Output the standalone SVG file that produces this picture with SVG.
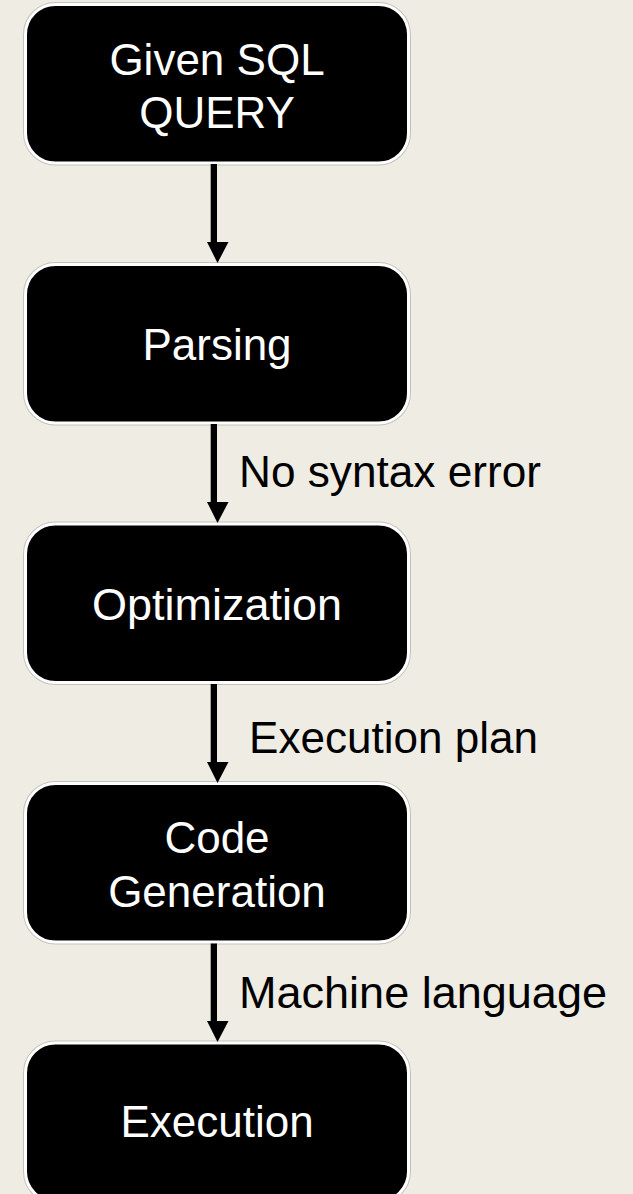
<svg xmlns="http://www.w3.org/2000/svg" width="633" height="1194" viewBox="0 0 633 1194">
<style>
.bg{fill:#efece4}
.edge{fill:none;stroke:#c4c2bc;stroke-width:5}
.box{fill:#000;stroke:#fff;stroke-width:3}
.nt{font-family:"Liberation Sans",Arial,sans-serif;font-size:44px;fill:#fff;text-anchor:middle}
.lt{font-family:"Liberation Sans",Arial,sans-serif;font-size:44px;fill:#000}
.shaft{fill:#000}
</style>
<defs>
<polygon id="head" points="-10.5,0 11,0 0,21"/>
</defs>
<rect class="bg" x="0" y="0" width="633" height="1194"/>
<g id="n1">
<rect class="edge" x="25.5" y="4.5" width="383" height="158.5" rx="30"/>
<rect class="box" x="25.5" y="4.5" width="383" height="158.5" rx="30"/>
<text class="nt" x="217" y="75">Given SQL</text>
<text class="nt" x="217" y="128">QUERY</text>
</g>
<g id="n2">
<rect class="edge" x="25.5" y="264.5" width="383" height="158.5" rx="30"/>
<rect class="box" x="25.5" y="264.5" width="383" height="158.5" rx="30"/>
<text class="nt" x="217" y="360">Parsing</text>
</g>
<g id="n3">
<rect class="edge" x="25.5" y="524" width="383" height="158.5" rx="30"/>
<rect class="box" x="25.5" y="524" width="383" height="158.5" rx="30"/>
<text class="nt" x="217" y="620" textLength="250" lengthAdjust="spacingAndGlyphs">Optimization</text>
</g>
<g id="n4">
<rect class="edge" x="25.5" y="783.5" width="383" height="158.5" rx="30"/>
<rect class="box" x="25.5" y="783.5" width="383" height="158.5" rx="30"/>
<text class="nt" x="217" y="853">Code</text>
<text class="nt" x="217" y="907">Generation</text>
</g>
<g id="n5">
<rect class="edge" x="25.5" y="1043" width="383" height="158.5" rx="30"/>
<rect class="box" x="25.5" y="1043" width="383" height="158.5" rx="30"/>
<text class="nt" x="217" y="1137">Execution</text>
</g>
<g id="connectors">
<rect class="shaft" x="210.7" y="164" width="6.3" height="79"/>
<use href="#head" x="217.5" y="242"/>
<rect class="shaft" x="210.7" y="424" width="6.3" height="79"/>
<use href="#head" x="217.5" y="502"/>
<text class="lt" x="239" y="487" textLength="302" lengthAdjust="spacingAndGlyphs">No syntax error</text>
<rect class="shaft" x="210.7" y="684" width="6.3" height="79"/>
<use href="#head" x="217.5" y="762"/>
<text class="lt" x="249" y="753" textLength="289" lengthAdjust="spacingAndGlyphs">Execution plan</text>
<rect class="shaft" x="210.7" y="943.5" width="6.3" height="79"/>
<use href="#head" x="217.5" y="1021"/>
<text class="lt" x="239" y="1008" textLength="368" lengthAdjust="spacingAndGlyphs">Machine language</text>
</g>
</svg>
